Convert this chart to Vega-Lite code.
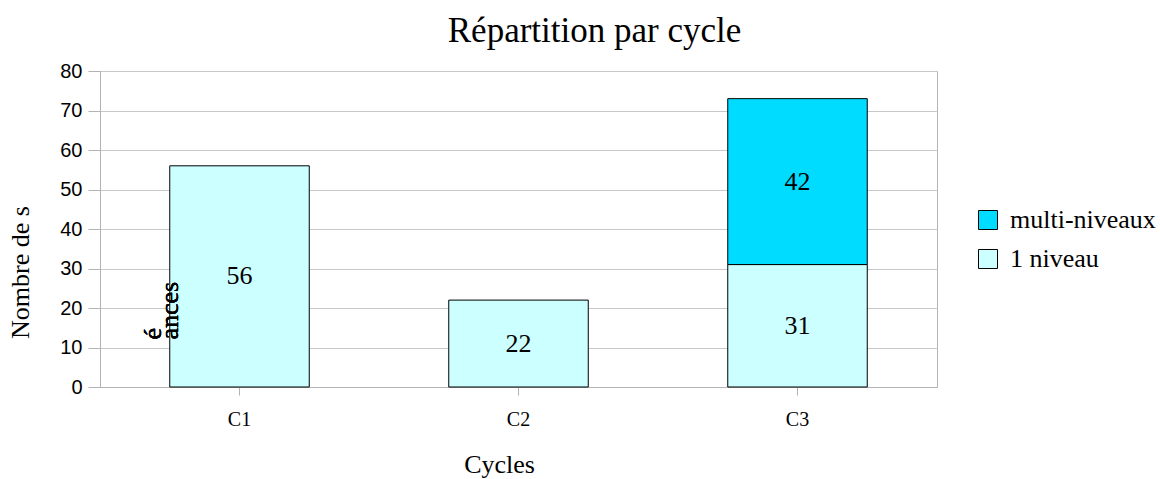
{
  "$schema": "https://vega.github.io/schema/vega-lite/v6.json",
  "autosize": {"type": "none"},
  "padding": {"left": 100, "top": 71, "right": 223, "bottom": 92},
  "width": 837,
  "height": 316,
  "background": "white",
  "title": {
    "text": "Répartition par cycle",
    "font": "Liberation Serif",
    "fontSize": 35,
    "fontWeight": "normal",
    "color": "black",
    "anchor": "middle",
    "frame": "group",
    "dx": 76,
    "dy": 7,
    "baseline": "alphabetic",
    "offset": -9
  },
  "config": {
    "view": {"stroke": "#b3b3b3", "strokeWidth": 1},
    "axis": {"domainColor": "#b3b3b3", "tickColor": "#b3b3b3", "gridColor": "#c8c8c8", "labelColor": "black", "titleColor": "black", "titleFontWeight": "normal"},
    "axisY": {
      "values": [0, 10, 20, 30, 40, 50, 60, 70, 80],
      "labelOverlap": false,
      "labelFont": "Liberation Sans",
      "labelFontSize": 20,
      "labelPadding": 6,
      "tickSize": 12,
      "grid": true,
      "titleFont": "Liberation Serif",
      "titleFontSize": 26,
      "titleY": 201,
      "titleAlign": "center",
      "titlePadding": 26
    }
  },
  "data": {
    "values": [
      {"cycle": "C1", "type": "1 niveau", "ord": 1, "value": 56},
      {"cycle": "C2", "type": "1 niveau", "ord": 1, "value": 22},
      {"cycle": "C3", "type": "1 niveau", "ord": 1, "value": 31},
      {"cycle": "C3", "type": "multi-niveaux", "ord": 2, "value": 42}
    ]
  },
  "transform": [
    {"stack": "value", "groupby": ["cycle"], "sort": [{"field": "ord", "order": "ascending"}], "as": ["s0", "s1"]}
  ],
  "encoding": {
    "x": {
      "field": "cycle",
      "type": "nominal",
      "scale": {"paddingInner": 0.5, "paddingOuter": 0.25},
      "axis": {
        "labelAngle": 0,
        "labelFont": "Liberation Serif",
        "labelFontSize": 20,
        "labelPadding": 14,
        "tickSize": 8,
        "title": "Cycles",
        "titleFont": "Liberation Serif",
        "titleFontSize": 26,
        "titleX": 399,
        "titleY": 85,
        "titleBaseline": "alphabetic",
        "titleAlign": "center"
      }
    }
  },
  "layer": [
    {
      "mark": {"type": "bar", "stroke": "black", "strokeWidth": 1},
      "encoding": {
        "y": {
          "field": "s1",
          "type": "quantitative",
          "scale": {"domain": [0, 80], "nice": false},
          "axis": {"title": "Nombre de s"}
        },
        "y2": {"field": "s0"},
        "color": {
          "field": "type",
          "type": "nominal",
          "scale": {"domain": ["multi-niveaux", "1 niveau"], "range": ["#00dcff", "#ccffff"]},
          "legend": {
            "title": null,
            "orient": "none",
            "legendX": 875,
            "legendY": 136,
            "symbolType": "square",
            "symbolSize": 361,
            "symbolStrokeColor": "black",
            "symbolStrokeWidth": 1,
            "labelFont": "Liberation Serif",
            "labelFontSize": 26,
            "labelColor": "black",
            "labelOffset": 9,
            "rowPadding": 13
          }
        }
      }
    },
    {
      "transform": [
        {"fold": ["s0", "s1"], "as": ["end", "pos"]}
      ],
      "mark": {"type": "text", "font": "Liberation Serif", "fontSize": 26, "color": "black", "baseline": "middle", "align": "center"},
      "encoding": {
        "y": {"aggregate": "mean", "field": "pos", "type": "quantitative", "axis": {"title": "Nombre de s"}},
        "detail": {"field": "type", "type": "nominal"},
        "text": {"field": "value", "type": "quantitative"}
      }
    },
    {
      "mark": {"type": "text", "text": ["é", "ances"], "font": "Liberation Serif", "fontSize": 26, "color": "black", "angle": 270, "align": "left", "baseline": "middle", "lineHeight": 17, "dy": -17},
      "encoding": {
        "x": {"datum": "C1", "type": "nominal", "bandPosition": 0},
        "y": {"datum": 12, "type": "quantitative", "axis": {"title": "Nombre de s"}}
      }
    }
  ]
}
